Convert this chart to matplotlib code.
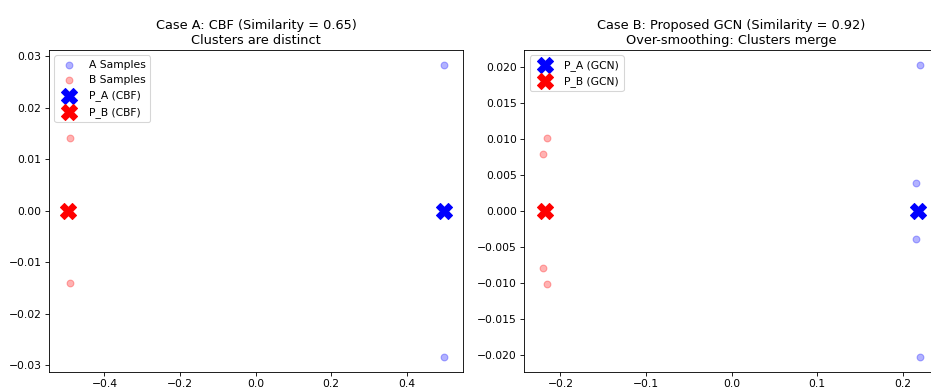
import matplotlib
matplotlib.use("Agg")
import matplotlib.pyplot as plt

# Case A (CBF) embeddings
cbf_a_x = [0.4998, 0.4998]
cbf_a_y = [0.0284, -0.0284]
cbf_b_x = [-0.490, -0.490]
cbf_b_y = [0.0141, -0.0141]
cbf_pa = (0.499, 0.0)
cbf_pb = (-0.497, 0.0)

# Case B (GCN) embeddings
gcn_a_x = [0.220, 0.216, 0.216, 0.220]
gcn_a_y = [0.0203, 0.0039, -0.0039, -0.0203]
gcn_b_x = [-0.216, -0.220, -0.220, -0.216]
gcn_b_y = [0.0101, 0.0079, -0.0079, -0.0101]
gcn_pa = (0.218, 0.0)
gcn_pb = (-0.218, 0.0)

fig = plt.figure(figsize=(12, 5.026), dpi=77.6)
ax1 = fig.add_axes([0.0526, 0.0469, 0.4447, 0.8249])
ax2 = fig.add_axes([0.5632, 0.0469, 0.4447, 0.8249])

ax1.scatter(cbf_a_x, cbf_a_y, color='blue', alpha=0.3, s=40, label='A Samples')
ax1.scatter(cbf_b_x, cbf_b_y, color='red', alpha=0.3, s=40, label='B Samples')
ax1.scatter(*cbf_pa, color='blue', marker='X', s=220, label='P_A (CBF)')
ax1.scatter(*cbf_pb, color='red', marker='X', s=220, label='P_B (CBF)')
ax1.set_title('Case A: CBF (Similarity = 0.65)\nClusters are distinct')
ax1.legend(loc='upper left')

ax2.scatter(gcn_a_x, gcn_a_y, color='blue', alpha=0.3, s=40)
ax2.scatter(gcn_b_x, gcn_b_y, color='red', alpha=0.3, s=40)
ax2.scatter(*gcn_pa, color='blue', marker='X', s=220, label='P_A (GCN)')
ax2.scatter(*gcn_pb, color='red', marker='X', s=220, label='P_B (GCN)')
ax2.set_title('Case B: Proposed GCN (Similarity = 0.92)\nOver-smoothing: Clusters merge')
ax2.legend(loc='upper left')

fig.savefig('out.png', dpi=77.6)
